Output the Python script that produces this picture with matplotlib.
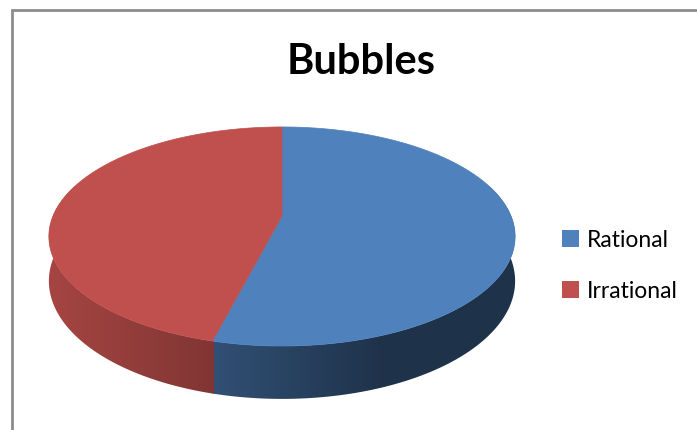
import numpy as np
import matplotlib.pyplot as plt
from matplotlib.colors import to_rgb
from matplotlib.patches import Polygon, Patch

plt.rcParams['font.family'] = ['Lato', 'DejaVu Sans']

labels = ['Rational', 'Irrational']
values = [54, 46]
colors = ['#4F81BD', '#C0504D']
title = 'Bubbles'

# 3d pie geometry, in pixels
CX, CY = 282, 217
RX, RY = 229, 105.7
PERSP = 0.187
DEPTH = 43


def project(theta, drop=0.0):
    # theta clockwise from 12 o'clock
    u = np.sin(theta)
    v = -np.cos(theta)
    s = 1.0 / (1 - PERSP * v)
    return CX + RX * u * s, CY + RY * v * s + drop * s


def side_shade(i, x):
    if i == 1:  # red wall, lighter on the left
        f = 0.86 - (x - 50) / 162 * 0.19
        return np.clip(f, 0.6, 0.9)
    f = 0.62 - (x - 212) / 170 * 0.23
    return np.clip(f, 0.39, 0.65)


fig = plt.figure(figsize=(6.97, 4.31), dpi=100)
ax = fig.add_axes([0, 0, 1, 1])
ax.axis('off')

# chart frame
ax.plot([12, 12, 697], [431, 11, 11], color='#8c8c8c', lw=2, solid_joinstyle='miter')

fracs = np.array(values) / sum(values)
edges = np.concatenate([[0], np.cumsum(fracs)]) * 2 * np.pi

# side walls, front half only, filled with a horizontal gradient
front_lo, front_hi = np.pi / 2 - 0.3, 3 * np.pi / 2 + 0.3
gx = np.linspace(CX - RX * 1.05, CX + RX * 1.05, 400)
for i in range(len(values)):
    # small overlap so no seam shows between neighbouring walls
    a0 = max(edges[i] - 0.006, front_lo)
    a1 = min(edges[i + 1], front_hi)
    if a1 <= a0:
        continue
    t = np.linspace(a0, a1, 300)
    xt, yt = project(t)
    xb, yb = project(t[::-1], DEPTH)
    wall = Polygon(np.column_stack([np.r_[xt, xb], np.r_[yt, yb]]),
                   closed=True, fc='none', ec='none')
    ax.add_patch(wall)
    rgb = np.array(to_rgb(colors[i]))
    img = side_shade(i, gx)[None, :, None] * rgb[None, None, :]
    im = ax.imshow(img, extent=(gx[0], gx[-1], 420, 100), aspect='auto',
                   interpolation='bilinear', zorder=1 + i * 0.1)
    im.set_clip_path(wall)

# top face
for i in range(len(values)):
    t = np.linspace(edges[i], edges[i + 1], 300)
    xs, ys = project(t)
    pts = np.column_stack([np.r_[CX, xs], np.r_[CY, ys]])
    ax.add_patch(Polygon(pts, closed=True, fc=colors[i], ec=colors[i],
                         lw=0.5, zorder=2))

ax.set_xlim(0, 697)
ax.set_ylim(431, 0)

ax.text(361, 62, title, ha='center', va='center', fontsize=30,
        fontweight='bold', color='black')

handles = [Patch(fc=c, ec='none') for c in colors]
fig.legend(handles, labels, loc='center left', bbox_to_anchor=(0.79, 0.382),
           frameon=False, fontsize=16.5, handlelength=0.75, handleheight=0.75,
           handletextpad=0.35, labelspacing=1.3, borderpad=0)

fig.savefig('out.png', dpi=100)
